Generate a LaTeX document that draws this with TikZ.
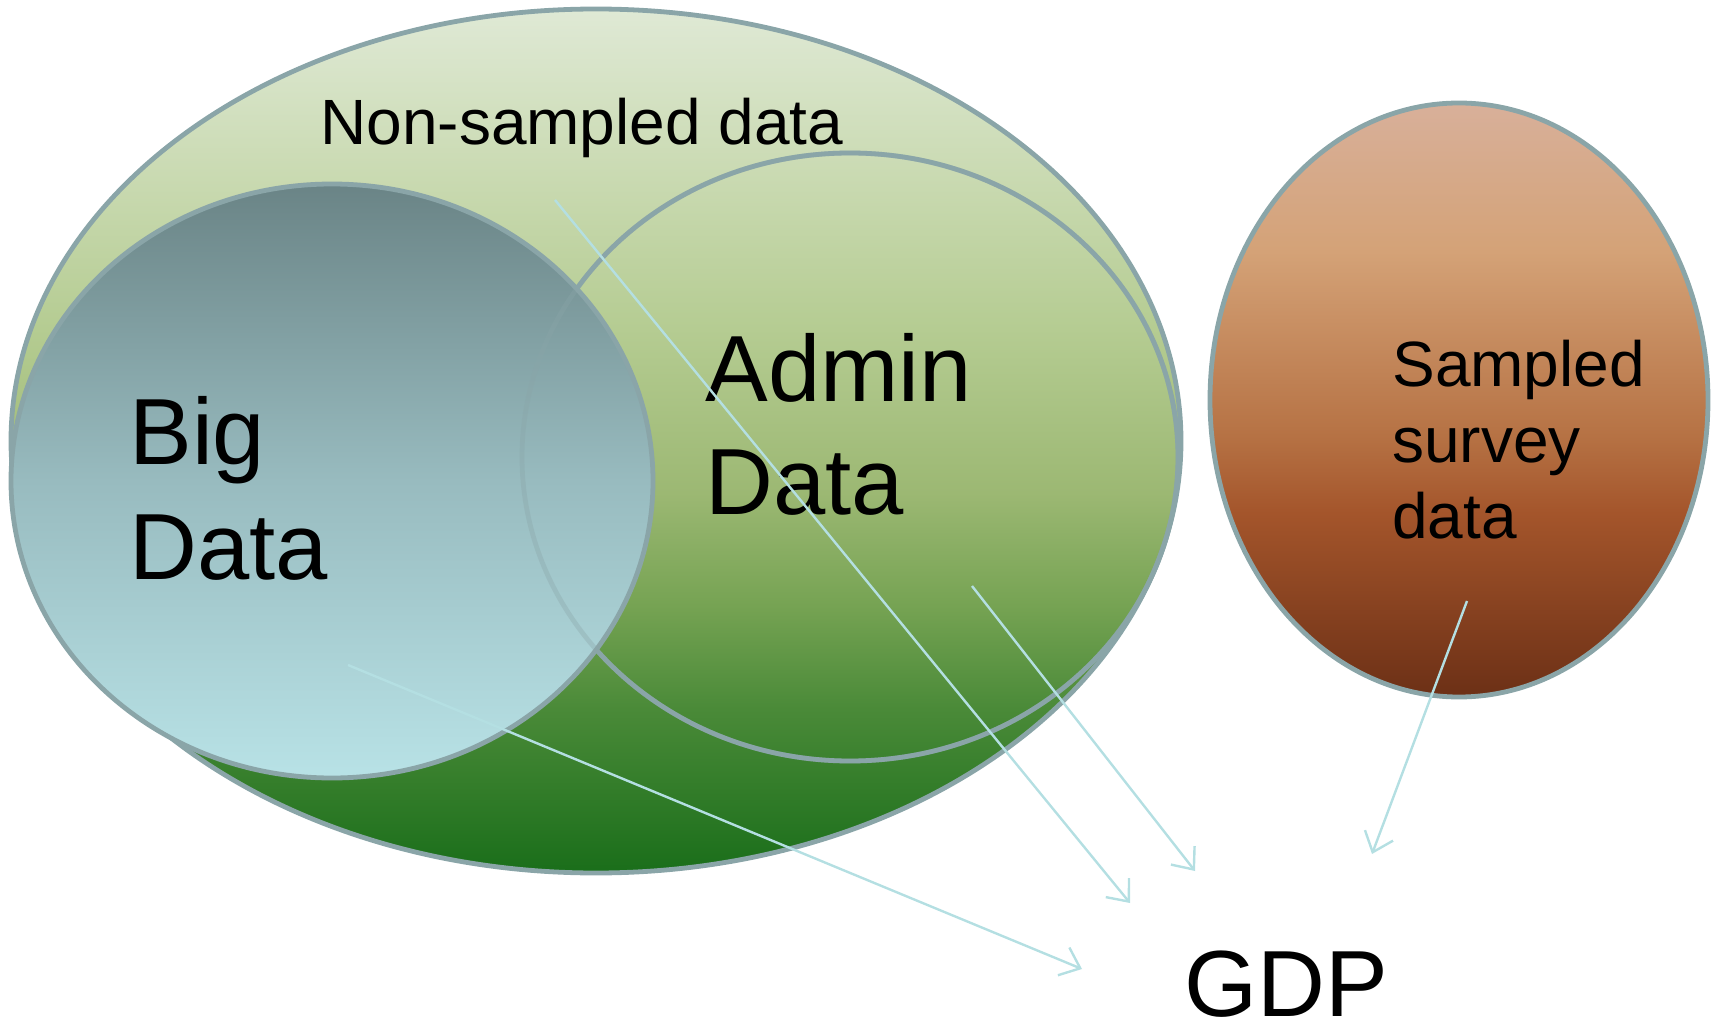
\documentclass[tikz,border=0pt]{standalone}
\usepackage{fontspec}
\setmainfont{Liberation Sans}
\usetikzlibrary{arrows.meta,positioning}

\definecolor{rimgray}{HTML}{8AA5A8}
\definecolor{feedcyan}{HTML}{B4DFE2}
\definecolor{ga}{HTML}{DFE9D5}
\definecolor{gb}{HTML}{CBDBB4}
\definecolor{gc}{HTML}{B5CC92}
\definecolor{gd}{HTML}{9CB873}
\definecolor{ge}{HTML}{76A353}
\definecolor{gf}{HTML}{4A8A38}
\definecolor{gg}{HTML}{1A6E1A}
\definecolor{ba}{HTML}{6A8486}
\definecolor{bb}{HTML}{98BBBF}
\definecolor{bc}{HTML}{B8E2E6}
\definecolor{sa}{HTML}{D8B09A}
\definecolor{sb}{HTML}{D4A277}
\definecolor{sc}{HTML}{B67244}
\definecolor{sd}{HTML}{A4552B}
\definecolor{se}{HTML}{6C3016}

\pgfdeclareverticalshading{nonsampledfill}{100bp}{color(0bp)=(gg); color(25bp)=(gg); color(34.5bp)=(gf); color(40.5bp)=(ge); color(47bp)=(gd); color(56.5bp)=(gc); color(66bp)=(gb); color(75bp)=(ga); color(100bp)=(ga)}
\pgfdeclareverticalshading{bigfill}{100bp}{color(0bp)=(bc); color(25bp)=(bc); color(50bp)=(bb); color(75bp)=(ba); color(100bp)=(ba)}
\pgfdeclareverticalshading{sampledfill}{100bp}{color(0bp)=(se); color(25bp)=(se); color(40.5bp)=(sd); color(47bp)=(sc); color(62.5bp)=(sb); color(75bp)=(sa); color(100bp)=(sa)}

\tikzset{
  ring/.style={draw=rimgray,line width=2.4pt},
  feed/.style={draw=feedcyan,line width=1.2pt,-{Straight Barb[length=9pt,width=15pt]}},
  lbl/.style={anchor=base west,inner sep=0pt,align=left}
}

\begin{document}
\begin{tikzpicture}[x=0.5pt,y=-0.5pt]
\useasboundingbox (0,0) rectangle (1714,1027);
\coordinate (outerc) at (596,441);
\coordinate (bigc) at (332,481);
\coordinate (adminc) at (850,457);
\coordinate (sampc) at (1459,400);
\path[ring,shading=nonsampledfill] (outerc) ellipse [x radius=585,y radius=432];
\draw[ring] (adminc) ellipse [x radius=328,y radius=304];
\path[ring,shading=bigfill] (bigc) ellipse [x radius=321,y radius=297];
\draw[ring,draw opacity=.35] (adminc) ellipse [x radius=328,y radius=304];
\path[ring,shading=sampledfill] (sampc) ellipse [x radius=249,y radius=297];
\node[lbl,font=\fontsize{32}{38}\selectfont] (nonlbl) at (320,145) {Non-sampled data};
\node[lbl,font=\fontsize{47}{57.5}\selectfont] (biglbl) at (129,579) {Big\\Data};
\node[lbl,font=\fontsize{47}{56.5}\selectfont] (adminlbl) at (705,514) {Admin\\Data};
\node[lbl,font=\fontsize{32}{38}\selectfont] (samplbl) at (1392,538) {Sampled\\survey\\data};
\node[lbl,font=\fontsize{47}{56}\selectfont] (gdp) at (1184,1016) {GDP};
\coordinate (bigsrc) at (348,665);
\coordinate (bigtip) at (1082,969);
\coordinate (nonsrc) at (555,200);
\coordinate (nontip) at (1130,903);
\coordinate (adminsrc) at (972,586);
\coordinate (admintip) at (1195,871);
\coordinate (sampsrc) at (1467,601);
\coordinate (samptip) at (1372,854);
\draw[feed] (bigsrc) -- (bigtip);
\draw[feed] (nonsrc) -- (nontip);
\draw[feed] (adminsrc) -- (admintip);
\draw[feed] (sampsrc) -- (samptip);
\end{tikzpicture}
\end{document}
